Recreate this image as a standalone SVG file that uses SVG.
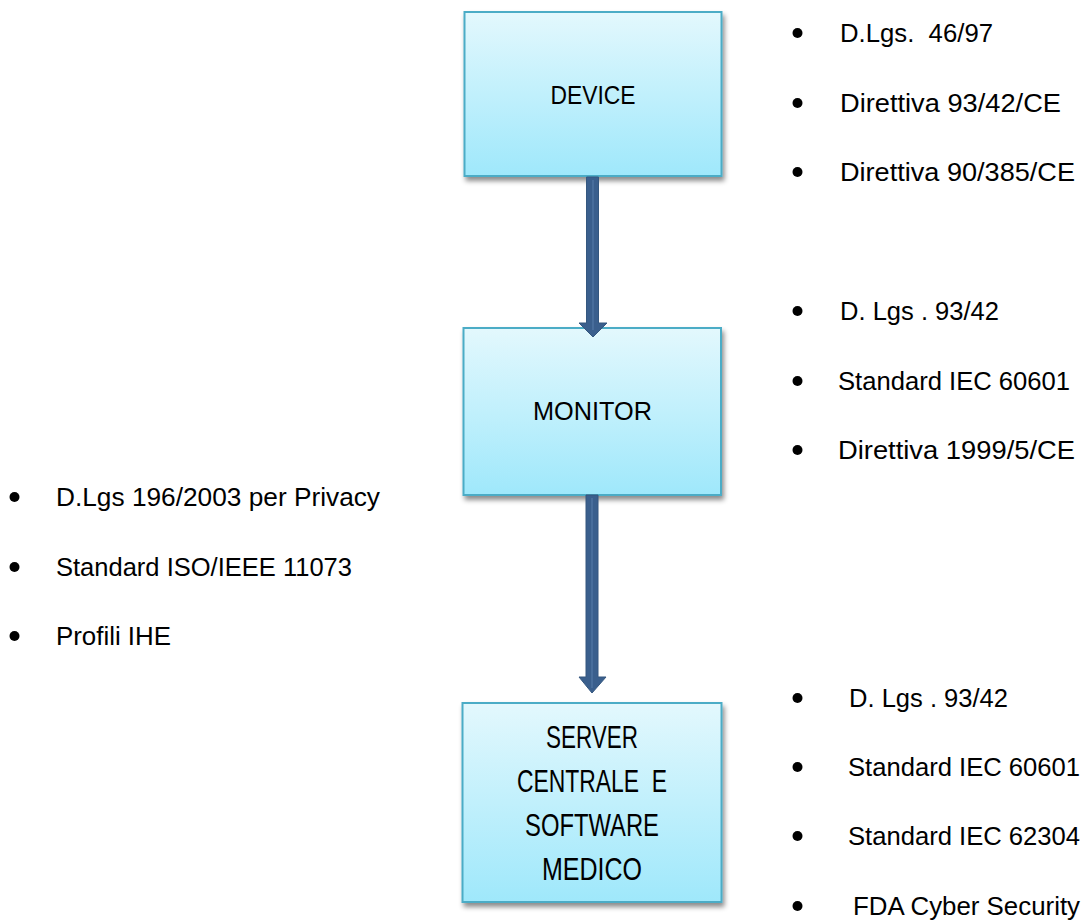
<svg xmlns="http://www.w3.org/2000/svg" width="1085" height="920" viewBox="0 0 1085 920">
<defs>
<linearGradient id="g" x1="0" y1="0" x2="0" y2="1">
<stop offset="0" stop-color="#E3F8FD"/>
<stop offset="1" stop-color="#9FE8FB"/>
</linearGradient>
<filter id="sh" x="-10%" y="-10%" width="130%" height="130%">
<feDropShadow dx="2" dy="4" stdDeviation="2.5" flood-color="#000" flood-opacity="0.45"/>
</filter>
<style>
.box{fill:url(#g);stroke:#4BACC6;stroke-width:2;filter:url(#sh)}
.t{font-family:"Liberation Sans","Open Sans",sans-serif;font-size:25px;fill:#000}
.lbl{font-family:"Liberation Sans","Open Sans",sans-serif;font-size:25px;fill:#000;text-anchor:middle}
.big{font-family:"Liberation Sans","Open Sans",sans-serif;font-size:31px;fill:#000;text-anchor:middle}
.arrow{fill:#3A5F8D;stroke:#34577F;stroke-width:1}
.hl{stroke:#5278A6;stroke-width:1.2}
.b{fill:#000}
</style>
</defs>
<rect width="1085" height="920" fill="#fff"/>
<g id="device">
<rect class="box" x="464.5" y="12" width="257" height="164"/>
<text class="lbl" x="593" y="104" textLength="85" lengthAdjust="spacingAndGlyphs">DEVICE</text>
</g>
<g id="monitor">
<rect class="box" x="463.5" y="328" width="257.5" height="167"/>
<text class="lbl" x="592.5" y="420" textLength="119" lengthAdjust="spacingAndGlyphs">MONITOR</text>
</g>
<g id="server">
<rect class="box" x="462.5" y="703" width="259" height="199"/>
<text class="big" x="592" y="748" textLength="92" lengthAdjust="spacingAndGlyphs">SERVER</text>
<text class="big" x="592" y="792" textLength="150" lengthAdjust="spacingAndGlyphs" xml:space="preserve">CENTRALE  E</text>
<text class="big" x="592" y="836" textLength="134" lengthAdjust="spacingAndGlyphs">SOFTWARE</text>
<text class="big" x="592" y="880" textLength="100" lengthAdjust="spacingAndGlyphs">MEDICO</text>
</g>
<g id="connectors">
<polygon class="arrow" points="586.5,177 598.5,177 598.5,323 607,323 593,337 579,323 586.5,323"/>
<line class="hl" x1="593" y1="180" x2="593" y2="330"/>
<polygon class="arrow" points="586,495 598,495 598,677 606,677 592,693 579,677 586,677"/>
<line class="hl" x1="592" y1="498" x2="592" y2="688"/>
</g>
<g id="list-device">
<circle class="b" cx="797.5" cy="33" r="5"/>
<circle class="b" cx="797.5" cy="103" r="5"/>
<circle class="b" cx="797.5" cy="172" r="5"/>
<text class="t" x="840" y="42" textLength="153" lengthAdjust="spacingAndGlyphs" xml:space="preserve">D.Lgs.  46/97</text>
<text class="t" x="840" y="112" textLength="221" lengthAdjust="spacingAndGlyphs">Direttiva 93/42/CE</text>
<text class="t" x="840" y="181" textLength="235" lengthAdjust="spacingAndGlyphs">Direttiva 90/385/CE</text>
</g>
<g id="list-monitor">
<circle class="b" cx="797.5" cy="311" r="5"/>
<circle class="b" cx="797.5" cy="381" r="5"/>
<circle class="b" cx="797.5" cy="450" r="5"/>
<text class="t" x="840" y="320" textLength="159" lengthAdjust="spacingAndGlyphs">D. Lgs . 93/42</text>
<text class="t" x="838" y="390" textLength="232" lengthAdjust="spacingAndGlyphs">Standard IEC 60601</text>
<text class="t" x="838" y="459" textLength="237" lengthAdjust="spacingAndGlyphs">Direttiva 1999/5/CE</text>
</g>
<g id="list-server">
<circle class="b" cx="797.5" cy="698" r="5"/>
<circle class="b" cx="797.5" cy="767" r="5"/>
<circle class="b" cx="797.5" cy="836" r="5"/>
<circle class="b" cx="797.5" cy="906" r="5"/>
<text class="t" x="849" y="707" textLength="159" lengthAdjust="spacingAndGlyphs">D. Lgs . 93/42</text>
<text class="t" x="848" y="776" textLength="232" lengthAdjust="spacingAndGlyphs">Standard IEC 60601</text>
<text class="t" x="848" y="845" textLength="232" lengthAdjust="spacingAndGlyphs">Standard IEC 62304</text>
<text class="t" x="853" y="915" textLength="227" lengthAdjust="spacingAndGlyphs">FDA Cyber Security</text>
</g>
<g id="list-left">
<circle class="b" cx="14.5" cy="497" r="5"/>
<circle class="b" cx="14.5" cy="567" r="5"/>
<circle class="b" cx="14.5" cy="636" r="5"/>
<text class="t" x="56" y="506" textLength="324" lengthAdjust="spacingAndGlyphs">D.Lgs 196/2003 per Privacy</text>
<text class="t" x="56" y="576" textLength="296" lengthAdjust="spacingAndGlyphs">Standard ISO/IEEE 11073</text>
<text class="t" x="56" y="645" textLength="115" lengthAdjust="spacingAndGlyphs">Profili IHE</text>
</g>
</svg>
